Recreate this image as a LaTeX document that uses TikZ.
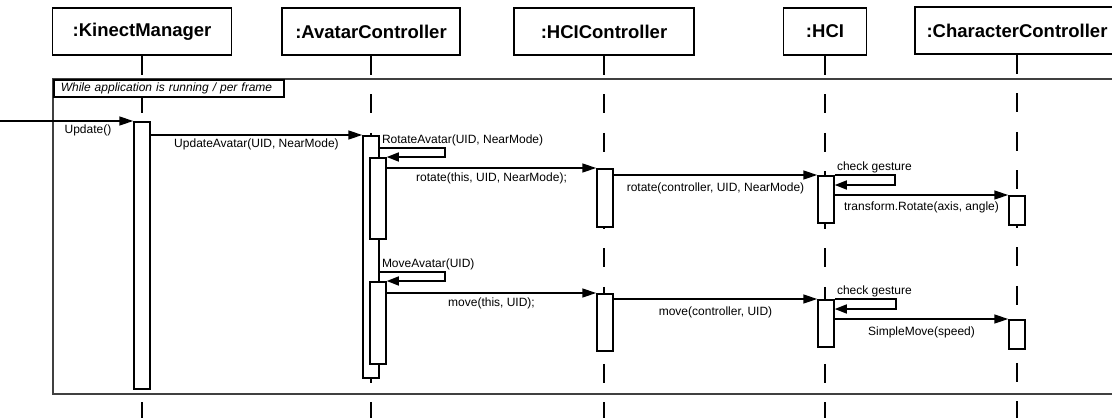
\documentclass[tikz,border=0pt]{standalone}
\usepackage{fontspec}
\setmainfont{Liberation Sans}
\usetikzlibrary{arrows.meta,calc}

\begin{document}
\begin{tikzpicture}[x=1pt,y=-1pt,
        objbox/.style={draw, fill=white, line width=1.6pt, minimum height=47pt, inner sep=0pt, font=\fontsize{18.5}{21}\selectfont\bfseries},
        lifeline/.style={line width=1.6pt, dash pattern=on 19pt off 19.5pt},
        bar/.style={draw, fill=white, line width=1.5pt, minimum width=16pt, inner sep=0pt, anchor=north},
        msg/.style={line width=1.5pt, -{Triangle[length=14pt,width=9pt]}},
        selfmsg/.style={line width=1.5pt, -{Triangle[length=12pt,width=9pt]}},
        lbl/.style={font=\fontsize{12}{14}\selectfont, inner sep=1.5pt},
        looplbl/.style={draw, fill=white, line width=1.5pt, anchor=north west, text width=216pt, inner xsep=7pt, inner ysep=3pt, font=\fontsize{12}{13}\selectfont\itshape},
        frame/.style={draw=black!75, line width=1.8pt}]
        \useasboundingbox (0,0) rectangle (1112,418);

        \node[objbox, minimum width=179pt] (km) at (142,31.5) {:KinectManager};
        \node[objbox, minimum width=178pt] (av) at (371,31.5) {:AvatarController};
        \node[objbox, minimum width=180pt] (hc) at (604,31.5) {:HCIController};
        \node[objbox, minimum width=83pt] (hi) at (825,31.5) {:HCI};
        \node[objbox, minimum width=204pt] (cc) at (1017,30.5) {:CharacterController};

        \coordinate (bottom) at (0,418);
        \coordinate (entry) at (0,121);

        \foreach \o in {km,av,hc,hi,cc}
            \draw[lifeline] (\o.south) -- (\o.south |- bottom);

        \draw[frame] (53,79) rectangle (1130,394);
        \node[looplbl] (loop) at (53,79) {While application is running / per frame};

        \node[bar, minimum height=267pt] (kmb) at (142,121) {};
        \node[bar, minimum height=242pt] (avb) at (371,135) {};
        \node[bar, minimum height=81pt] (avr) at (378,157) {};
        \node[bar, minimum height=82pt] (avm) at (378,281) {};
        \node[bar, minimum height=58pt] (hcr) at (605,168) {};
        \node[bar, minimum height=57pt] (hcm) at (605,293) {};
        \node[bar, minimum height=47pt] (hir) at (826,175) {};
        \node[bar, minimum height=47pt] (him) at (826,299) {};
        \node[bar, minimum height=29pt] (ccr) at (1017,195) {};
        \node[bar, minimum height=29pt] (ccm) at (1017,319) {};

        \draw[msg] (entry) -- node[lbl, below=2pt, pos=0.66] (l1) {Update()} (kmb.north west);
        \draw[msg] (kmb.east |- avb.north) -- node[lbl, below=2pt] (l2) {UpdateAvatar(UID, NearMode)} (avb.north west);
        \draw[selfmsg] ($(avb.east |- avr.north)+(0,-9)$) node[lbl, above right] (l3) {RotateAvatar(UID, NearMode)} -- ++(65,0) |- (avr.north east);
        \draw[msg] (avr.east |- hcr.north) -- node[lbl, below=3pt] (l4) {rotate(this, UID, NearMode);} (hcr.north west);
        \draw[msg] (hcr.east |- hir.north) -- node[lbl, below=6pt] (l5) {rotate(controller, UID, NearMode)} (hir.north west);
        \draw[selfmsg] (hir.north east) node[lbl, above right] (l6) {check gesture} -- ++(60,0) |- ($(hir.north east)+(0,10)$);
        \draw[msg] (hir.east |- ccr.north) -- node[lbl, below=5pt] (l7) {transform.Rotate(axis, angle)} (ccr.north west);

        \draw[selfmsg] ($(avb.east |- avm.north)+(0,-9)$) node[lbl, above right] (l8) {MoveAvatar(UID)} -- ++(65,0) |- (avm.north east);
        \draw[msg] (avm.east |- hcm.north) -- node[lbl, below=3pt] (l9) {move(this, UID);} (hcm.north west);
        \draw[msg] (hcm.east |- him.north) -- node[lbl, below=6pt] (l10) {move(controller, UID)} (him.north west);
        \draw[selfmsg] (him.north east) node[lbl, above right] (l11) {check gesture} -- ++(61,0) |- ($(him.north east)+(0,10)$);
        \draw[msg] (him.east |- ccm.north) -- node[lbl, below=6pt] (l12) {SimpleMove(speed)} (ccm.north west);
    \end{tikzpicture}
\end{document}
